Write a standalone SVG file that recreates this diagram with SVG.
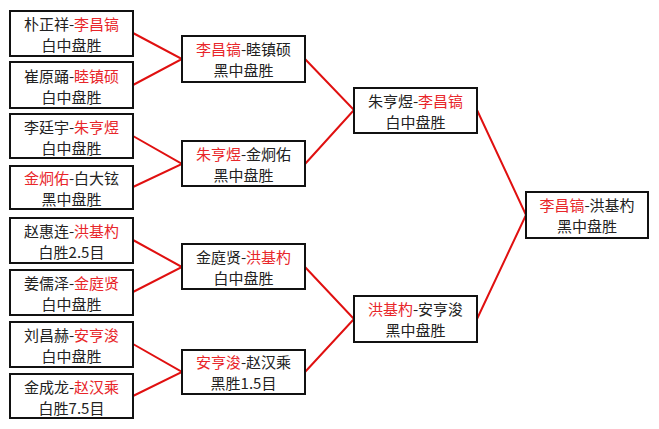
<svg xmlns="http://www.w3.org/2000/svg" width="659" height="429" viewBox="0 0 659 429">
<style>
.box{fill:#fff;stroke:#111;stroke-width:2}
text{font-family:"Noto Sans CJK SC","Noto Sans",sans-serif;font-size:15px;fill:#222;text-anchor:middle}
.r{fill:#e8262a}
.c{fill:none;stroke:#e01010;stroke-width:2}
</style>
<rect width="659" height="429" fill="#fff"/>
<g id="connectors">
<polyline class="c" points="133,33 182,59 133,85"/>
<polyline class="c" points="133,136 182,164 133,187"/>
<polyline class="c" points="133,240 182,267 133,292"/>
<polyline class="c" points="133,344 182,372 133,396"/>
<polyline class="c" points="305,59 354,110 305,164"/>
<polyline class="c" points="305,267 354,319 305,372"/>
<polyline class="c" points="477,110 526,215 477,319"/>
</g>
<g id="n1"><rect class="box" x="10" y="11" width="123" height="45"/><text x="71.5" y="30">朴正祥-<tspan class="r">李昌镐</tspan></text><text x="71.5" y="51">白中盘胜</text></g>
<g id="n2"><rect class="box" x="10" y="62" width="123" height="46"/><text x="71.5" y="82">崔原踊-<tspan class="r">睦镇硕</tspan></text><text x="71.5" y="103">白中盘胜</text></g>
<g id="n3"><rect class="box" x="10" y="114" width="123" height="44"/><text x="71.5" y="133">李廷宇-<tspan class="r">朱亨煜</tspan></text><text x="71.5" y="154">白中盘胜</text></g>
<g id="n4"><rect class="box" x="10" y="166" width="123" height="43"/><text x="71.5" y="184"><tspan class="r">金炯佑</tspan>-白大铉</text><text x="71.5" y="205">黑中盘胜</text></g>
<g id="n5"><rect class="box" x="10" y="218" width="123" height="45"/><text x="71.5" y="237">赵惠连-<tspan class="r">洪基杓</tspan></text><text x="71.5" y="258">白胜2.5目</text></g>
<g id="n6"><rect class="box" x="10" y="270" width="123" height="45"/><text x="71.5" y="289">姜儒泽-<tspan class="r">金庭贤</tspan></text><text x="71.5" y="310">白中盘胜</text></g>
<g id="n7"><rect class="box" x="10" y="322" width="123" height="45"/><text x="71.5" y="341">刘昌赫-<tspan class="r">安亨浚</tspan></text><text x="71.5" y="362">白中盘胜</text></g>
<g id="n8"><rect class="box" x="10" y="374" width="123" height="44"/><text x="71.5" y="393">金成龙-<tspan class="r">赵汉乘</tspan></text><text x="71.5" y="414">白胜7.5目</text></g>
<g id="n9"><rect class="box" x="182" y="36" width="123" height="46"/><text x="243.5" y="55"><tspan class="r">李昌镐</tspan>-睦镇硕</text><text x="243.5" y="76">黑中盘胜</text></g>
<g id="n10"><rect class="box" x="182" y="141" width="123" height="45"/><text x="243.5" y="160"><tspan class="r">朱亨煜</tspan>-金炯佑</text><text x="243.5" y="181">黑中盘胜</text></g>
<g id="n11"><rect class="box" x="182" y="244" width="123" height="45"/><text x="243.5" y="263">金庭贤-<tspan class="r">洪基杓</tspan></text><text x="243.5" y="284">白中盘胜</text></g>
<g id="n12"><rect class="box" x="182" y="350" width="123" height="44"/><text x="243.5" y="368"><tspan class="r">安亨浚</tspan>-赵汉乘</text><text x="243.5" y="389">黑胜1.5目</text></g>
<g id="n13"><rect class="box" x="354" y="88" width="123" height="45"/><text x="415.5" y="107">朱亨煜-<tspan class="r">李昌镐</tspan></text><text x="415.5" y="128">白中盘胜</text></g>
<g id="n14"><rect class="box" x="354" y="296" width="123" height="46"/><text x="415.5" y="315"><tspan class="r">洪基杓</tspan>-安亨浚</text><text x="415.5" y="336">黑中盘胜</text></g>
<g id="n15"><rect class="box" x="526" y="192" width="122" height="46"/><text x="587" y="211"><tspan class="r">李昌镐</tspan>-洪基杓</text><text x="587" y="232">黑中盘胜</text></g>
</svg>
